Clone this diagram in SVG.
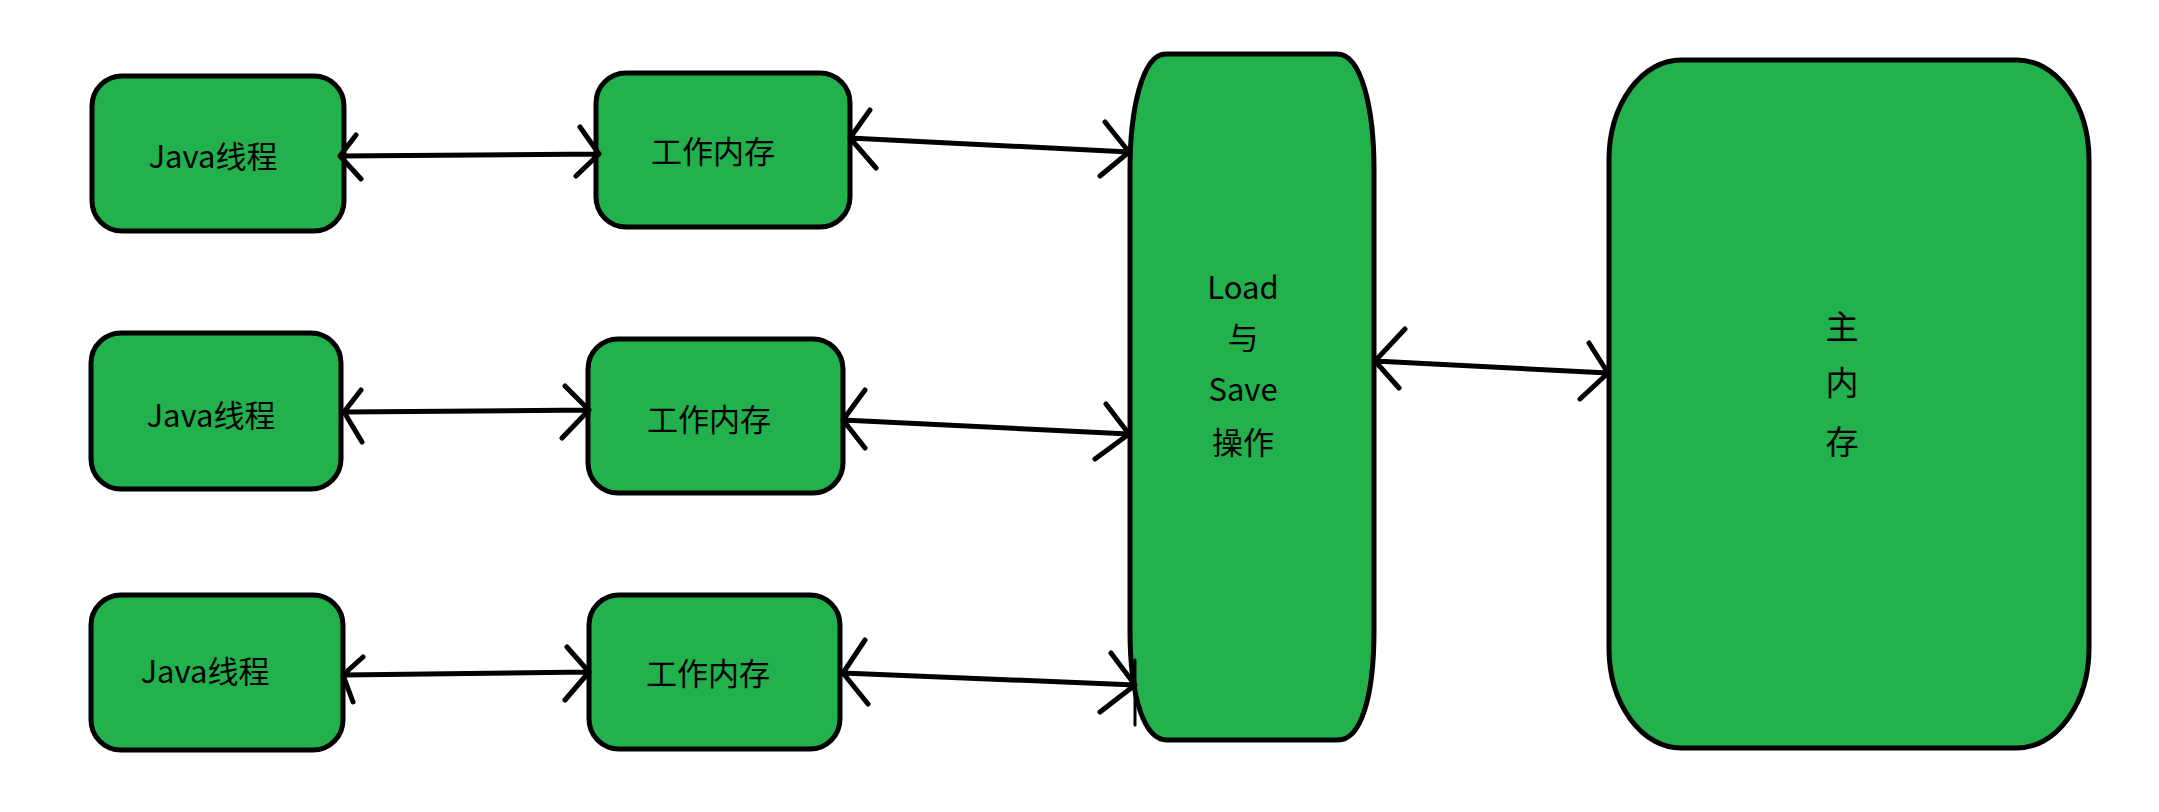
<svg xmlns="http://www.w3.org/2000/svg" width="2159" height="812" viewBox="0 0 2159 812">
<style>
.box{fill:#22B14C;stroke:#000;stroke-width:5}
.lbl{font-family:"Noto Sans CJK SC","Noto Sans",sans-serif;font-size:31px;fill:#000;text-anchor:middle;dominant-baseline:central}
.big{font-size:33px}
.con{fill:none;stroke:#000;stroke-width:5;stroke-linecap:round;stroke-linejoin:round}
</style>
<rect width="2159" height="812" fill="#fff"/>
<g id="java1"><rect class="box" x="92" y="76" width="252" height="155" rx="30" ry="30"/><text class="lbl" x="213" y="154">Java线程</text></g>
<g id="java2"><rect class="box" x="91" y="333" width="250" height="156" rx="30" ry="30"/><text class="lbl" x="211" y="413">Java线程</text></g>
<g id="java3"><rect class="box" x="91" y="595" width="252" height="155" rx="30" ry="30"/><text class="lbl" x="205" y="669">Java线程</text></g>
<g id="work1"><rect class="box" x="596" y="73" width="254" height="154" rx="30" ry="30"/><text class="lbl" x="713" y="149">工作内存</text></g>
<g id="work2"><rect class="box" x="588" y="339" width="255" height="154" rx="30" ry="30"/><text class="lbl" x="709" y="417">工作内存</text></g>
<g id="work3"><rect class="box" x="589" y="595" width="251" height="154" rx="30" ry="30"/><text class="lbl" x="708" y="671">工作内存</text></g>
<g id="loadsave"><path class="box" d="M1166,54 H1337 C1362,54 1374,110 1374,170 V630 C1374,700 1360,740 1338,740 H1167 C1145,740 1130,700 1130,630 V170 C1130,110 1142,54 1166,54 Z"/>
<text class="lbl" x="1243" y="285">Load</text><text class="lbl" x="1243" y="335">与</text><text class="lbl" x="1243" y="387">Save</text><text class="lbl" x="1243" y="440">操作</text></g>
<g id="mainmem"><rect class="box" x="1609" y="60" width="480" height="688" rx="72" ry="100"/>
<text class="lbl big" x="1842" y="325">主</text><text class="lbl big" x="1842" y="381">内</text><text class="lbl big" x="1842" y="440">存</text></g>
<g id="connectors" class="con">
<path d="M340,156 L599,154 M356,135 L340,156 L361,179 M580,127 L599,154 L576,176"/>
<path d="M850,138 L1129,152 M870,110 L850,138 L876,168 M1105,122 L1129,152 L1100,176"/>
<path d="M344,412 L589,410 M361,390 L344,412 L362,442 M565,386 L589,410 L562,438"/>
<path d="M843,420 L1129,434 M865,390 L843,420 L865,448 M1106,404 L1129,434 L1095,459"/>
<path d="M343,675 L589,672 M363,657 L343,675 L353,702 M567,647 L589,672 L565,700"/>
<path d="M843,673 L1135,685 M865,640 L843,673 L868,704 M1111,653 L1135,685 L1100,712"/>
<path d="M1375,361 L1608,373 M1405,329 L1375,361 L1399,388 M1589,343 L1608,373 L1580,399"/>
<path d="M1135,660 L1135,725" stroke-width="3"/>
</g>
</svg>
